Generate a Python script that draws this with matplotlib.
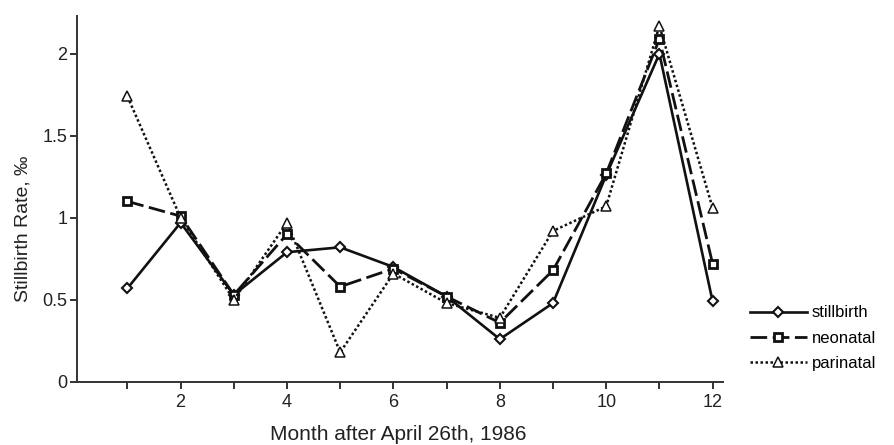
import matplotlib
matplotlib.use("Agg")
import matplotlib.pyplot as plt

plt.rcParams['font.family'] = ['Liberation Sans', 'DejaVu Sans']

months = [1, 2, 3, 4, 5, 6, 7, 8, 9, 10, 11, 12]
stillbirth = [0.57, 0.97, 0.53, 0.79, 0.82, 0.70, 0.52, 0.26, 0.48, 1.26, 2.00, 0.49]
neonatal = [1.10, 1.01, 0.53, 0.90, 0.58, 0.69, 0.52, 0.36, 0.68, 1.27, 2.09, 0.72]
perinatal = [1.74, 1.00, 0.50, 0.97, 0.18, 0.66, 0.48, 0.39, 0.92, 1.07, 2.17, 1.06]
xtick_labels = ["", "2", "", "4", "", "6", "", "8", "", "10", "", "12"]
ytick_values = [0, 0.5, 1, 1.5, 2]
ytick_labels = ["0", "0.5", "1", "1.5", "2"]

fig = plt.figure(figsize=(8.94, 4.45), dpi=100)
ax = fig.add_axes([0.086, 0.142, 0.723, 0.822])

c = '#111111'
ax.plot(months, stillbirth, color=c, lw=1.9, ls='-', marker='D', ms=5.5,
        mfc='white', mec=c, mew=1.5, label='stillbirth', zorder=3)
ax.plot(months, neonatal, color=c, lw=2.0, ls=(0, (6, 2)), marker='s', ms=6,
        mfc='white', mec=c, mew=2.0, label='neonatal', zorder=3)
ax.plot(months, perinatal, color=c, lw=1.8, ls=(0, (1, 1)), marker='^', ms=7,
        mfc='white', mec=c, mew=1.1, label='parinatal', zorder=3)

ax.set_xlim(0.05, 12.2)
ax.set_ylim(0, 2.23)
ax.set_xticks(months)
ax.set_xticklabels(xtick_labels)
ax.set_yticks(ytick_values)
ax.set_yticklabels(ytick_labels)
ax.tick_params(axis='both', labelsize=13, colors='#222222', length=5, width=1.3)
ax.tick_params(axis='y', pad=2)
for s in ['top', 'right']:
    ax.spines[s].set_visible(False)
for s in ['left', 'bottom']:
    ax.spines[s].set_color('#333333')
    ax.spines[s].set_linewidth(1.4)

fig.text(398 / 894, 1 - 434 / 445, 'Month after April 26th, 1986', fontsize=15,
         color='#222222', ha='center', va='center')
fig.text(23 / 894, 1 - 229 / 445, 'Stillbirth Rate, ‰', fontsize=14,
         color='#222222', ha='center', va='center', rotation=90)

fig.legend(loc='center left', bbox_to_anchor=(0.826, 0.24), frameon=False,
           handlelength=3.4, fontsize=12, labelspacing=0.62, handletextpad=0.3,
           borderpad=0.2)

fig.savefig('out.png', dpi=100, facecolor='white')
